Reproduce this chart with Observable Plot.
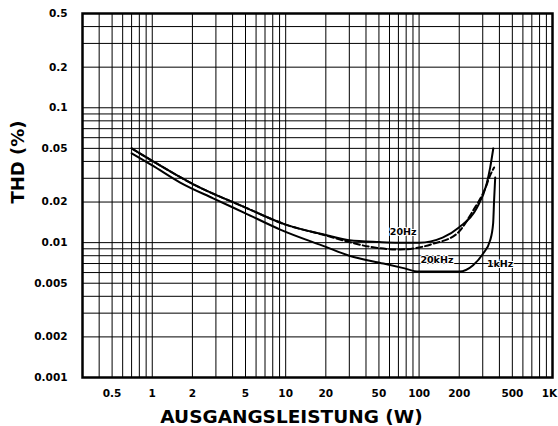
<!DOCTYPE html>
<html><head><meta charset="utf-8">
<script src="https://cdn.jsdelivr.net/npm/d3@7"></script>
<script src="https://cdn.jsdelivr.net/npm/@observablehq/plot@0.6"></script>
<style>body{margin:0;background:#fff;} svg{display:block}</style>
</head><body><div id="chart"></div>
<script>
// Tick labels
const xTicks = [0.5, 1, 2, 5, 10, 20, 50, 100, 200, 500, 1000];
const xTickLabels = ["0.5", "1", "2", "5", "10", "20", "50", "100", "200", "500", "1K"];
const yTicks = [0.001, 0.002, 0.005, 0.01, 0.02, 0.05, 0.1, 0.2, 0.5];
const yTickLabels = ["0.001", "0.002", "0.005", "0.01", "0.02", "0.05", "0.1", "0.2", "0.5"];

// Log-paper grid lines
const gridX = [0.3,0.4,0.5,0.6,0.7,0.8,0.9,1,2,3,4,5,6,7,8,9,10,20,30,40,50,60,70,80,90,100,200,300,400,500,600,700,800,900,1000];
const gridY = [0.001,0.002,0.003,0.004,0.005,0.006,0.007,0.008,0.009,0.01,0.02,0.03,0.04,0.05,0.06,0.07,0.08,0.09,0.1,0.2,0.3,0.4,0.5];

// Series: output power (W) vs THD (%)
const power20Hz = [0.7, 1, 2, 5, 10, 20, 30, 50, 70, 100, 150, 200, 270, 320, 341, 360];
const thd20Hz   = [0.050, 0.0404, 0.0273, 0.0182, 0.0136, 0.0114, 0.0104, 0.0101, 0.0100, 0.0100, 0.0109, 0.0130, 0.0180, 0.0270, 0.0360, 0.0500];

const power20kHz = [0.7, 1, 2, 5, 10, 20, 30, 43, 72, 100, 127, 193, 254, 313, 341, 365];
const thd20kHz   = [0.050, 0.0404, 0.0273, 0.0182, 0.0136, 0.0113, 0.0101, 0.0093, 0.0089, 0.0092, 0.0098, 0.0117, 0.0173, 0.0252, 0.0315, 0.0361];

const power1kHz = [0.7, 1, 1.62, 2.86, 5, 9.1, 20, 30, 54, 75, 100, 150, 200, 254, 302, 341, 359, 365, 372];
const thd1kHz   = [0.046, 0.0374, 0.0279, 0.0213, 0.0165, 0.0125, 0.0093, 0.0080, 0.0070, 0.0065, 0.0061, 0.0061, 0.0061, 0.0068, 0.0083, 0.0104, 0.0139, 0.0206, 0.0304];

// Curve labels
const labelText  = ["20Hz", "20kHz", "1kHz"];
const labelPower = [76, 136, 405];
const labelThd   = [0.0119, 0.0074, 0.0070];

const toRows = (ps, ts) => ps.map((p, i) => ({p, thd: ts[i]}));
const d20Hz = toRows(power20Hz, thd20Hz);
const d20kHz = toRows(power20kHz, thd20kHz);
const d1kHz = toRows(power1kHz, thd1kHz);
const labels = labelText.map((t, i) => ({t, p: labelPower[i], thd: labelThd[i]}));
const xTickRows = xTicks.map((v, i) => ({v, t: xTickLabels[i], dx: v === 1000 ? -3 : 0}));
const yTickRows = yTicks.map((v, i) => ({v, t: yTickLabels[i]}));

const chart = Plot.plot({
  width: 558, height: 426,
  marginLeft: 82, marginRight: 6, marginTop: 13, marginBottom: 49,
  x: {type: "log", domain: [0.3, 1000], axis: null},
  y: {type: "log", domain: [0.001, 0.5], axis: null},
  style: {fontFamily: "DejaVu Sans", background: "white", color: "black"},
  marks: [
    Plot.ruleX(gridX, {stroke: "black", strokeWidth: 1}),
    Plot.ruleY(gridY, {stroke: "black", strokeWidth: 1}),
    Plot.frame({stroke: "black", strokeWidth: 2.5}),
    Plot.line(d20Hz, {x: "p", y: "thd", stroke: "black", strokeWidth: 2, curve: "monotone-x"}),
    Plot.line(d20kHz, {x: "p", y: "thd", stroke: "black", strokeWidth: 2, strokeDasharray: "6,3", curve: "monotone-x"}),
    Plot.line(d1kHz, {x: "p", y: "thd", stroke: "black", strokeWidth: 2, curve: "monotone-x"}),
    Plot.text(labels, {x: "p", y: "thd", text: "t", fontSize: 9.5, fontWeight: "bold", fill: "black", stroke: "white", strokeWidth: 2}),
    Plot.text(xTickRows.filter(d => d.v !== 1000), {x: "v", text: "t", frameAnchor: "bottom", dy: 16, lineAnchor: "middle", fontSize: 10.5, fontWeight: "bold"}),
    Plot.text(xTickRows.filter(d => d.v === 1000), {x: "v", text: "t", frameAnchor: "bottom", dy: 16, dx: -3, lineAnchor: "middle", fontSize: 10.5, fontWeight: "bold"}),
    Plot.text(yTickRows, {y: "v", text: "t", frameAnchor: "left", dx: -15, textAnchor: "end", lineAnchor: "middle", fontSize: 10.5, fontWeight: "bold"}),
    Plot.text(["AUSGANGSLEISTUNG (W)"], {text: d => d, frameAnchor: "bottom", dx: -26, dy: 40, fontSize: 18.5, fontWeight: "bold", lineAnchor: "middle"}),
    Plot.text(["THD (%)"], {text: d => d, frameAnchor: "left", rotate: -90, dx: -64, dy: 8, fontSize: 18, fontWeight: "bold"})
  ]
});
document.getElementById("chart").appendChild(chart);
</script>
</body></html>
